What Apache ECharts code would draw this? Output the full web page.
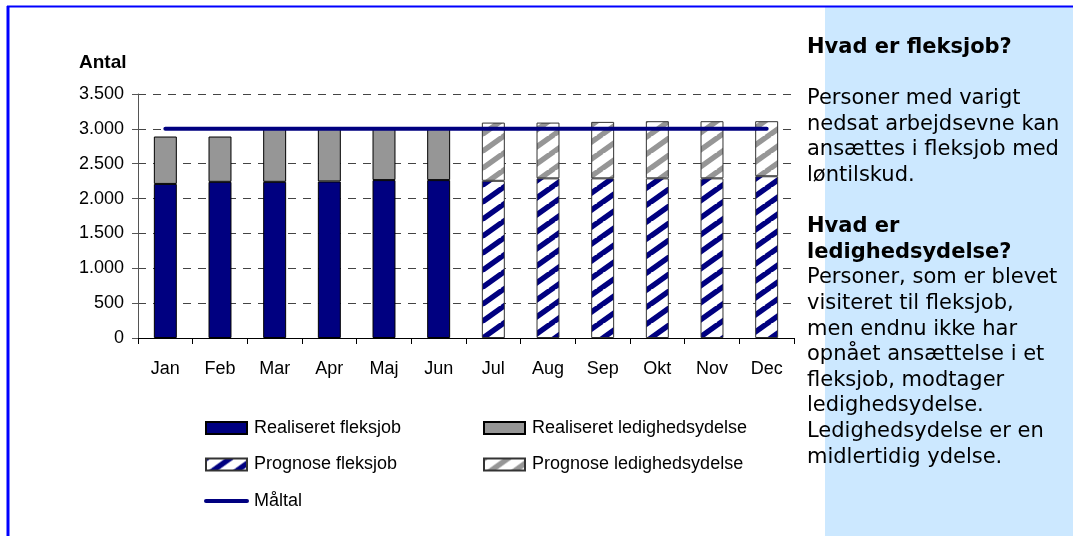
<!DOCTYPE html>
<html>
<head>
<meta charset="utf-8">
<script src="https://cdn.jsdelivr.net/npm/echarts@6/dist/echarts.min.js"></script>
<style>
  html, body { margin: 0; padding: 0; background: #ffffff; }
  #chart { width: 1073px; height: 536px; }
</style>
</head>
<body>
<div id="chart"></div>
<script>
// Months on the category axis
const months = ['Jan', 'Feb', 'Mar', 'Apr', 'Maj', 'Jun', 'Jul', 'Aug', 'Sep', 'Okt', 'Nov', 'Dec'];

// Realised figures (Jan–Jun)
const realFleksjob = [2210, 2240, 2240, 2245, 2265, 2265, null, null, null, null, null, null];
const realLedighed = [680, 650, 770, 765, 745, 745, null, null, null, null, null, null];

// Forecast figures (Jul–Dec)
const progFleksjob = [null, null, null, null, null, null, 2255, 2290, 2290, 2290, 2290, 2320];
const progLedighed = [null, null, null, null, null, null, 835, 800, 810, 820, 820, 790];

// Target
const maaltal = [3000, 3000, 3000, 3000, 3000, 3000, 3000, 3000, 3000, 3000, 3000, 3000];

// Value-axis ticks
const yTicks = [0, 500, 1000, 1500, 2000, 2500, 3000, 3500];

// Side-panel text
const panelLines = [
  ['b', 'Hvad er fleksjob?'],
  ['n', ''],
  ['n', 'Personer med varigt'],
  ['n', 'nedsat arbejdsevne kan'],
  ['n', 'ansættes i fleksjob med'],
  ['n', 'løntilskud.'],
  ['n', ''],
  ['b', 'Hvad er'],
  ['b', 'ledighedsydelse?'],
  ['n', 'Personer, som er blevet'],
  ['n', 'visiteret til fleksjob,'],
  ['n', 'men endnu ikke har'],
  ['n', 'opnået ansættelse i et'],
  ['n', 'fleksjob, modtager'],
  ['n', 'ledighedsydelse.'],
  ['n', 'Ledighedsydelse er en'],
  ['n', 'midlertidig ydelse.']
];

const NAVY = '#000080';
const GREY = '#969696';

// Upward diagonal hatch used for the forecast bars
function hatch(color) {
  const W = 24, H = 17;
  const c = document.createElement('canvas');
  c.width = W; c.height = H;
  const ctx = c.getContext('2d');
  ctx.fillStyle = '#ffffff';
  ctx.fillRect(0, 0, W, H);
  ctx.strokeStyle = color;
  ctx.lineWidth = 5.5;
  for (let k = -1; k <= 1; k++) {
    ctx.beginPath();
    ctx.moveTo(k * W - 2, H + 2 * H / W);
    ctx.lineTo(k * W + W + 2, -2 * H / W);
    ctx.stroke();
  }
  return { image: c, repeat: 'repeat' };
}

function thousands(v) {
  return String(v).replace(/\B(?=(\d{3})+(?!\d))/g, '.');
}

const FONT = '"Liberation Sans", Arial, sans-serif';
const PANEL_FONT = '"DejaVu Sans", Verdana, sans-serif';

const chart = echarts.init(document.getElementById('chart'), null, { renderer: 'canvas' });

const barCommon = {
  type: 'bar',
  stack: 'antal',
  barWidth: '42%',
  emphasis: { disabled: true }
};

const legendText = { color: '#000000', fontFamily: FONT, fontSize: 18, lineHeight: 20, padding: [0, 0, 0, 2] };

chart.setOption({
  animation: false,
  backgroundColor: '#ffffff',
  grid: { left: 138, right: 279, top: 94, bottom: 198, containLabel: false },
  xAxis: {
    type: 'category',
    data: months,
    boundaryGap: true,
    axisLine: { show: true, lineStyle: { color: '#000000', width: 1 } },
    axisTick: { show: true, alignWithLabel: false, length: 6, lineStyle: { color: '#000000' } },
    axisLabel: { color: '#000000', fontFamily: FONT, fontSize: 18, margin: 22 },
    splitLine: { show: false }
  },
  yAxis: {
    type: 'value',
    min: 0,
    max: 3500,
    interval: 500,
    axisLine: { show: true, lineStyle: { color: '#555555', width: 1 } },
    axisTick: { show: true, inside: false, length: 6, lineStyle: { color: '#555555' } },
    axisLabel: {
      color: '#000000', fontFamily: FONT, fontSize: 18, margin: 14,
      formatter: function (v) { return yTicks.indexOf(v) >= 0 ? thousands(v) : ''; }
    },
    splitLine: { show: true, lineStyle: { color: '#444444', width: 1, type: [8, 7] } }
  },
  legend: [
    {
      left: 204, top: 418, orient: 'vertical', itemGap: 16.5, padding: 0,
      itemWidth: 41, itemHeight: 12,
      textStyle: legendText,
      data: [
        { name: 'Realiseret fleksjob', icon: 'rect' },
        { name: 'Prognose fleksjob', icon: 'rect' },
        {
          name: 'Måltal',
          itemStyle: { color: 'rgba(0,0,0,0)', borderWidth: 0, opacity: 0 },
          lineStyle: { color: NAVY, width: 4, cap: 'round' }
        }
      ],
      selectedMode: false
    },
    {
      left: 483, top: 418, orient: 'vertical', itemGap: 16.5, padding: 0,
      itemWidth: 41, itemHeight: 12,
      textStyle: legendText,
      data: [
        { name: 'Realiseret ledighedsydelse', icon: 'rect' },
        { name: 'Prognose ledighedsydelse', icon: 'rect' }
      ],
      selectedMode: false
    }
  ],
  series: [
    Object.assign({}, barCommon, {
      name: 'Realiseret fleksjob',
      data: realFleksjob,
      itemStyle: { color: NAVY, borderColor: '#000000', borderWidth: 1 }
    }),
    Object.assign({}, barCommon, {
      name: 'Prognose fleksjob',
      data: progFleksjob,
      itemStyle: { color: hatch(NAVY), borderColor: '#333333', borderWidth: 1 }
    }),
    Object.assign({}, barCommon, {
      name: 'Realiseret ledighedsydelse',
      data: realLedighed,
      itemStyle: { color: GREY, borderColor: '#000000', borderWidth: 1 }
    }),
    Object.assign({}, barCommon, {
      name: 'Prognose ledighedsydelse',
      data: progLedighed,
      itemStyle: { color: hatch(GREY), borderColor: '#333333', borderWidth: 1 }
    }),
    {
      name: 'Måltal',
      type: 'line',
      data: maaltal,
      symbol: 'none',
      z: 5,
      emphasis: { disabled: true },
      lineStyle: { color: NAVY, width: 4, cap: 'round' },
      itemStyle: { color: NAVY }
    }
  ],
  graphic: [
    // light-blue info panel
    { type: 'rect', z: -10, shape: { x: 825, y: 7, width: 248, height: 529 }, style: { fill: '#CCE8FF' } },
    // blue frame
    { type: 'line', z: 10, shape: { x1: 8, y1: 6, x2: 8, y2: 536 }, style: { stroke: '#0000FF', lineWidth: 3 } },
    { type: 'line', z: 10, shape: { x1: 7, y1: 6.5, x2: 1073, y2: 6.5 }, style: { stroke: '#0000FF', lineWidth: 2 } },
    // value-axis title
    {
      type: 'text', left: 79, top: 53, z: 10,
      style: { text: 'Antal', fill: '#000000', font: 'bold 19px ' + FONT }
    },
    // info text
    {
      type: 'text', left: 807, top: 37, z: 10,
      style: {
        text: panelLines.map(function (l) { return '{' + l[0] + '|' + (l[1] || ' ') + '}'; }).join('\n'),
        rich: {
          b: { font: 'bold 21px ' + PANEL_FONT, fill: '#000000', lineHeight: 25.6 },
          n: { font: '21px ' + PANEL_FONT, fill: '#000000', lineHeight: 25.6 }
        }
      }
    }
  ]
});
</script>
</body>
</html>
